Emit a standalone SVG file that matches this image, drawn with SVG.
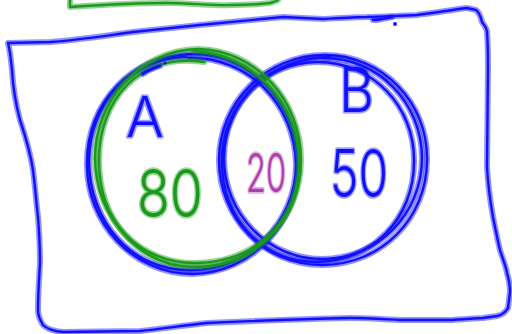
<svg xmlns="http://www.w3.org/2000/svg" xmlns:xlink="http://www.w3.org/1999/xlink" width="512" height="334" viewBox="0 0 512 334">
<style>
.halo{fill:none;stroke-width:6;stroke-opacity:0.45;stroke-linecap:round;stroke-linejoin:round}
.core{fill:none;stroke-width:2.4;stroke-linecap:round;stroke-linejoin:round}
.b{stroke:#1010ff}
.g{stroke:#1a9a1a}
.lbl{font-family:Inter,"Open Sans",Lato,"Liberation Sans",sans-serif;font-weight:300;paint-order:stroke;stroke-width:3.5;stroke-opacity:0.4;stroke-linejoin:round}
.tb{fill:#1010ff;stroke:#1010ff}
.tg{fill:#1a9a1a;stroke:#1a9a1a}
.tp{fill:#b03ab0;stroke:#b03ab0}
</style>
<defs>
<path id="frame" d="M8,43 L50,42 C80,40 110,35 133,32 C160,29 180,27 200,25 C230,22 260,19 283,17 L323,19 C340,18 355,17 367,17 C390,16 405,16 417,15 C435,13 450,10 467,8 L476,10 C480,13 481,18 482,22 C484,25 487,28 487,32 C488,45 488,60 488,67 L487,167 C488,185 490,200 493,217 C496,232 498,242 500,250 C503,260 506,266 507,273 C509,280 510,285 510,292 L508,308 C505,313 502,315 497,316 L483,318 C465,319 455,320 450,320 C430,320 415,320 400,320 C380,319 365,318 350,318 C300,319 250,321 207,323 C180,326 160,329 140,331 L63,332 C52,331 47,329 43,325 C40,320 38,315 38,310 C38,295 39,280 40,263 C40,245 39,230 38,217 C36,200 35,185 33,170 C30,150 25,135 20,120 C16,105 13,88 12,70 C11,60 10,50 8,43 Z"/>
<path id="topg" d="M70,0 L70,7 C100,5 140,3 167,3 C190,3 215,6 233,5 C250,5 262,4 270,3 C274,2 277,1 278,0"/>
<path id="ab1" d="M192,54 C250,53 297,102 298,163 C298,224 252,273 192,274 C134,274 86,224 87,163 C87,102 132,55 192,54"/>
<path id="ab2" d="M188,58 C248,56 295,104 296,165 C296,222 248,271 190,270 C132,271 89,222 89,160 C90,104 130,59 186,57"/>
<path id="ag1" d="M198,49 C256,50 301,100 301,160 C301,218 258,262 196,263 C140,264 96,220 95,158 C95,100 140,50 198,49"/>
<path id="ag2" d="M194,51 C252,54 299,102 299,164 C298,222 256,267 194,267 C138,266 99,220 99,160 C99,102 138,52 204,62"/>
<path id="bb1" d="M325,55 C382,55 428,102 427,160 C427,218 382,265 322,265 C264,265 219,218 219,160 C219,102 266,55 325,55"/>
<path id="bb2" d="M318,62 C372,62 415,106 414,162 C414,218 372,262 316,262 C262,262 222,218 222,162 C222,106 264,62 318,62"/>
<path id="bb3" d="M322,58 C378,57 422,103 422,158 C422,214 378,259 322,259 C268,259 224,214 224,158 C224,103 268,58 330,57"/>
<path id="mark" d="M373,20 C380,20 387,18 392,17"/>
<path id="squig" d="M143,74 C148,70 154,68 160,66"/>
</defs>
<g id="frame-rect">
<use xlink:href="#frame" class="halo b"/>
<use xlink:href="#frame" class="core b"/>
<use xlink:href="#mark" class="halo b"/>
<use xlink:href="#mark" class="core b"/>
<circle cx="395" cy="24" r="2" fill="#1010ff"/>
</g>
<g id="top-green">
<use xlink:href="#topg" class="halo g"/>
<use xlink:href="#topg" class="core g"/>
</g>
<g id="set-B">
<use xlink:href="#bb1" class="halo b"/>
<use xlink:href="#bb2" class="halo b"/>
<use xlink:href="#bb3" class="halo b"/>
<use xlink:href="#bb1" class="core b"/>
<use xlink:href="#bb2" class="core b"/>
<use xlink:href="#bb3" class="core b"/>
<text x="339" y="112" class="lbl tb" font-size="62" textLength="35" lengthAdjust="spacingAndGlyphs">B</text>
<text x="330" y="197" class="lbl tb" font-size="66" textLength="58" lengthAdjust="spacingAndGlyphs">50</text>
</g>
<g id="set-A">
<use xlink:href="#ab1" class="halo b"/>
<use xlink:href="#ab2" class="halo b"/>
<use xlink:href="#ab1" class="core b"/>
<use xlink:href="#ab2" class="core b"/>
<use xlink:href="#ag1" class="halo g"/>
<use xlink:href="#ag2" class="halo g"/>
<use xlink:href="#ag1" class="core g"/>
<use xlink:href="#ag2" class="core g"/>
<use xlink:href="#squig" class="halo b"/>
<use xlink:href="#squig" class="core b"/>
<circle cx="165" cy="63" r="1.5" fill="#1010ff"/>
<text x="126" y="137" class="lbl tb" font-size="56">A</text>
<text x="137" y="217" class="lbl tg" font-size="66" textLength="66" lengthAdjust="spacingAndGlyphs">80</text>
</g>
<g id="intersection">
<text x="246" y="192" class="lbl tp" font-size="53" textLength="40" lengthAdjust="spacingAndGlyphs">20</text>
</g>
</svg>
